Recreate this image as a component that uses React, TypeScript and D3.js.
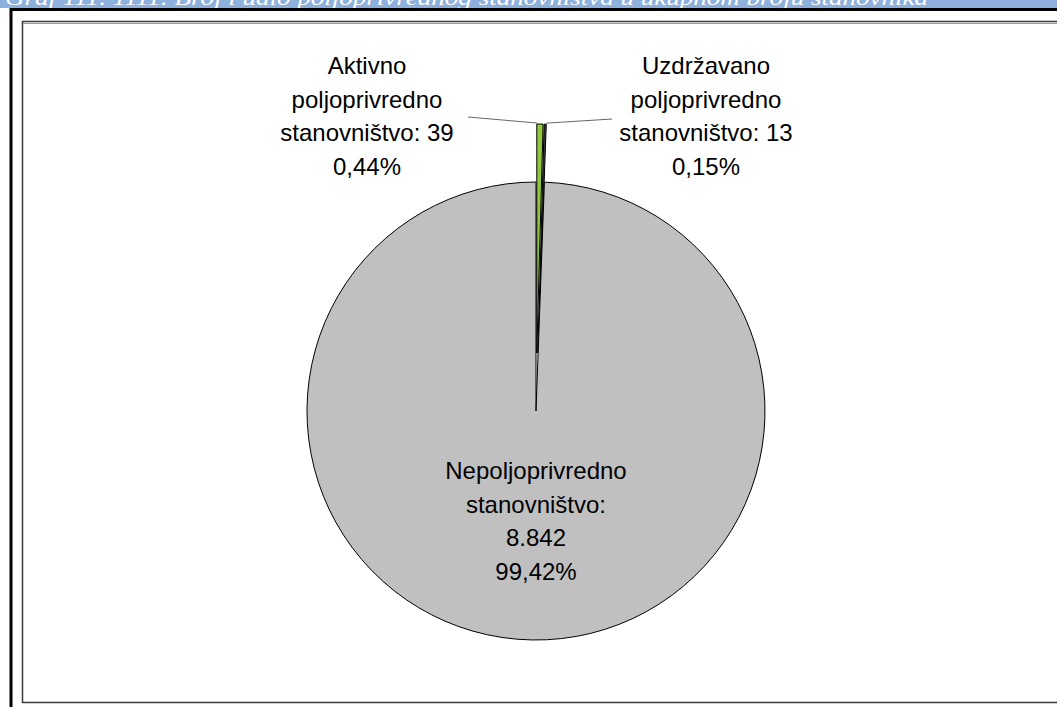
import React from "react";
import * as d3 from "d3";

const categories = [
  "Aktivno poljoprivredno stanovništvo",
  "Uzdržavano poljoprivredno stanovništvo",
  "Nepoljoprivredno stanovništvo",
];
const values = [39, 13, 8842];
const valueLabels = ["39", "13", "8.842"];
const percentLabels = ["0,44%", "0,15%", "99,42%"];
const colors = ["#92C83E", "#3A3A3A", "#C0C0C0"];
const title =
  "Graf 111. 1111. Broj i udio poljoprivrednog stanovništva u ukupnom broju stanovnika";

const W = 1057;
const H = 707;

export default function App() {
  const cx = 536;
  const cy = 411;
  const r = 229;
  const explode = [58, 58, 0];

  const pie = d3
    .pie<number>()
    .sort(null)
    .value((d) => d);
  const arcs = pie(values);
  const arcGen = d3.arc<d3.PieArcDatum<number>>().innerRadius(0).outerRadius(r);

  const offsets = arcs.map((a, i) => {
    const mid = (a.startAngle + a.endAngle) / 2;
    return [Math.sin(mid) * explode[i], -Math.cos(mid) * explode[i]];
  });

  const outerMid = (i: number) => {
    const a = arcs[i];
    const mid = (a.startAngle + a.endAngle) / 2;
    return [
      cx + offsets[i][0] + Math.sin(mid) * r,
      cy + offsets[i][1] - Math.cos(mid) * r,
    ];
  };

  const font = "Liberation Sans, Arial, sans-serif";
  const fs = 24;
  const lh = 33.5;

  const labelBlocks = [
    {
      x: 367,
      y: 66,
      lines: ["Aktivno", "poljoprivredno", `stanovništvo: ${valueLabels[0]}`, percentLabels[0]],
    },
    {
      x: 706,
      y: 66,
      lines: ["Uzdržavano", "poljoprivredno", `stanovništvo: ${valueLabels[1]}`, percentLabels[1]],
    },
    {
      x: 536,
      y: 471,
      lines: ["Nepoljoprivredno", "stanovništvo:", valueLabels[2], percentLabels[2]],
    },
  ];

  const p0 = outerMid(0);
  const p1 = outerMid(1);

  return (
    <svg
      width={W}
      height={H}
      style={{ position: "absolute", left: 0, top: 0, background: "#fff" }}
    >
      {/* banner */}
      <rect x={0} y={0} width={W} height={8} fill="#8DB0DC" />
      <text
        x={5}
        y={5}
        fill="#ffffff"
        fontFamily="Liberation Serif, DejaVu Serif, serif"
        fontStyle="italic"
        fontSize={21}
        textLength={923}
        lengthAdjust="spacingAndGlyphs"
      >
        {title}
      </text>
      <line x1={10} y1={9.5} x2={W} y2={9.5} stroke="#000" strokeWidth={3} />
      <line x1={11} y1={8} x2={11} y2={H} stroke="#000" strokeWidth={3} />
      {/* inner frame */}
      <rect
        x={22.5}
        y={21.5}
        width={W}
        height={681}
        fill="#fff"
        stroke="#3a3a3a"
        strokeWidth={1.5}
      />
      <line x1={23} y1={23.5} x2={W} y2={23.5} stroke="#9a9a9a" strokeWidth={1} />

      {/* pie */}
      <g>
        {arcs.map((a, i) => (
          <path
            key={categories[i]}
            d={arcGen(a) || ""}
            transform={`translate(${cx + offsets[i][0]},${cy + offsets[i][1]})`}
            fill={colors[i]}
            stroke="#000"
            strokeWidth={1}
            strokeLinejoin="round"
          />
        ))}
      </g>

      {/* leader lines */}
      <line x1={468} y1={117} x2={p0[0] - 3} y2={p0[1] - 1} stroke="#666" strokeWidth={1} />
      <line x1={p1[0] + 1} y1={p1[1] - 1} x2={612} y2={119} stroke="#666" strokeWidth={1} />

      {/* labels */}
      {labelBlocks.map((b, i) => (
        <text
          key={i}
          x={b.x}
          textAnchor="middle"
          fontFamily={font}
          fontSize={fs}
          fill="#000"
        >
          {b.lines.map((ln, j) => (
            <tspan key={j} x={b.x} y={b.y + j * lh + 8}>
              {ln}
            </tspan>
          ))}
        </text>
      ))}
    </svg>
  );
}
